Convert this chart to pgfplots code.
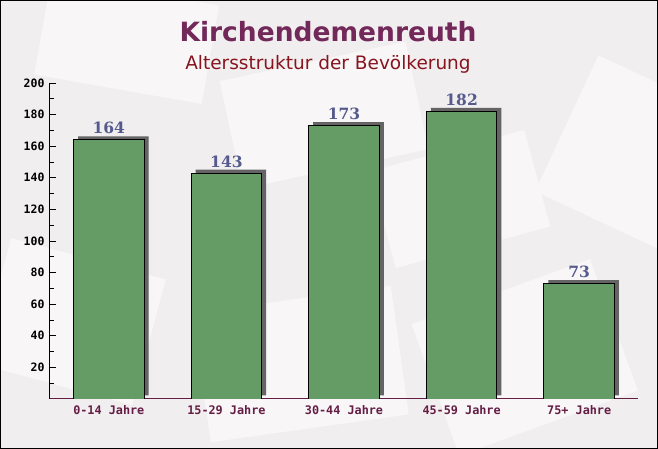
\documentclass[border=0pt]{standalone}
\usepackage{pgfplots}
\pgfplotsset{compat=1.18}
\usepackage{fontspec}
\setmainfont{DejaVu Sans}
\newfontfamily\monof{DejaVu Sans Mono}
\newfontfamily\seriff{DejaVu Serif}
\definecolor{bgcol}{RGB}{241,238,239}
\definecolor{envcol}{RGB}{248,246,246}
\definecolor{titlecol}{RGB}{115,40,90}
\definecolor{subcol}{RGB}{135,20,30}
\definecolor{valcol}{RGB}{85,90,140}
\definecolor{barcol}{RGB}{101,156,101}
\definecolor{shadowcol}{RGB}{100,100,100}
\definecolor{xlabcol}{RGB}{100,30,70}
\begin{document}
\begin{tikzpicture}[x=1pt,y=1pt]
\fill[bgcol] (0,0) rectangle (658,449);
\begin{scope}
\clip (0,0) rectangle (658,449);
\fill[envcol,rotate around={12:(330,330)}] (230,280) rectangle (420,390);
\fill[envcol,rotate around={-15:(80,120)}] (-10,60) rectangle (150,190);
\fill[envcol,rotate around={20:(520,90)}] (430,20) rectangle (620,160);
\fill[envcol,rotate around={-25:(610,300)}] (560,230) rectangle (700,380);
\fill[envcol,rotate around={8:(300,90)}] (200,20) rectangle (400,150);
\fill[envcol,rotate around={-10:(120,400)}] (40,360) rectangle (210,460);
\fill[envcol,rotate around={15:(460,250)}] (380,200) rectangle (540,300);
\end{scope}
\draw[black,line width=1pt] (0.5,0.5) rectangle (657.5,448.5);
\node[font=\fontsize{26.5}{30}\selectfont\bfseries, text=titlecol] at (328,417) {Kirchendemenreuth};
\node[font=\fontsize{18.5}{21}\selectfont, text=subcol] at (328,385) {Altersstruktur der Bevölkerung};
\begin{axis}[
  at={(50pt,50pt)}, anchor=south west,
  scale only axis, width=588pt, height=316pt,
  xmin=-0.5, xmax=4.5, ymin=0, ymax=200,
  axis x line*=bottom, axis y line*=left,
  x axis line style={draw=xlabcol, line width=1pt},
  y axis line style={draw=black, line width=1pt},
  tick align=inside,
  ytick={20,40,...,200},
  minor ytick={10,30,...,190},
  major tick length=6pt, minor tick length=4pt,
  every tick/.style={black, line width=0.8pt},
  xtick={0,1,2,3,4},
  xticklabels={0-14 Jahre,15-29 Jahre,30-44 Jahre,45-59 Jahre,75+ Jahre},
  major x tick style={draw=none},
  extra x ticks={0.5,1.5,2.5,3.5,4.5},
  extra x tick labels={},
  extra x tick style={major tick length=5pt, tick style={draw=xlabcol, line width=0.8pt}},
  /pgf/number format/assume math mode=true,
  yticklabel style={font=\monof\bfseries\fontsize{11.5}{12}\selectfont, text=black, xshift=-2pt},
  xticklabel style={font=\monof\bfseries\fontsize{11.8}{12}\selectfont, text=xlabcol, yshift=-3pt},
  nodes near coords,
  every node near coord/.append style={font=\seriff\bfseries\fontsize{15.5}{15.5}\selectfont, text=valcol, yshift=2pt},
]
\addplot[ybar, bar width=0.6, fill=barcol, draw=black, line width=0.9pt,
  preaction={fill=shadowcol, draw=none, transform canvas={shift={(4.5pt,3.5pt)}}}]
  coordinates {(0,164) (1,143) (2,173) (3,182) (4,73)};
\end{axis}
\end{tikzpicture}
\end{document}
